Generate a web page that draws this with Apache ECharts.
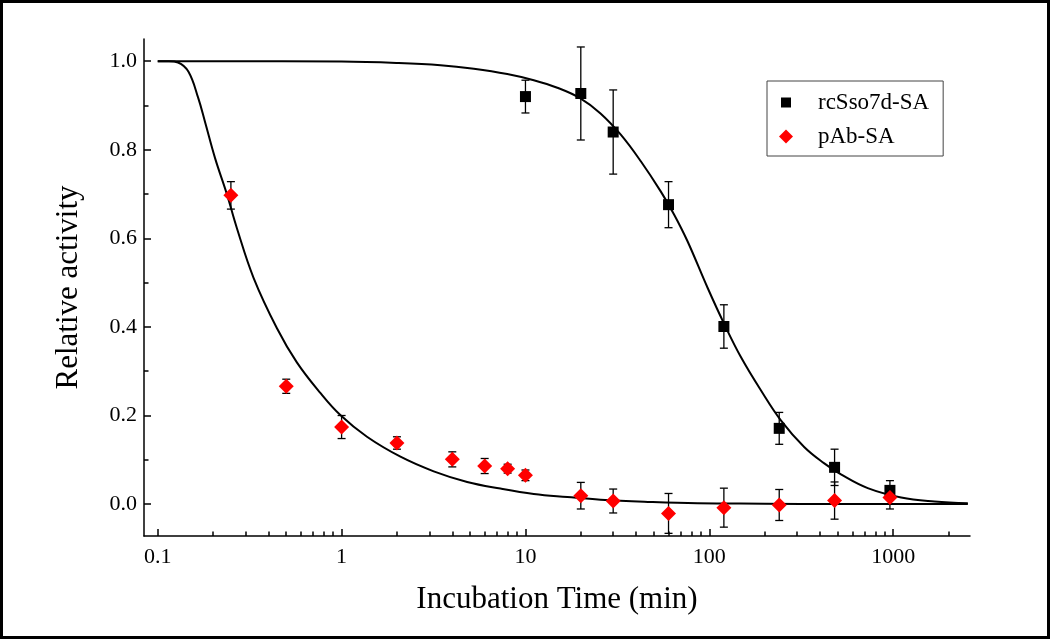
<!DOCTYPE html>
<html>
<head>
<meta charset="utf-8">
<script src="https://cdn.jsdelivr.net/npm/echarts@6/dist/echarts.min.js"></script>
<style>
html,body{margin:0;padding:0;background:#fff;}
#chart{width:1050px;height:639px;}
</style>
</head>
<body>
<div id="chart"></div>
<script>
// ---- data ----
const timeBlack = [10, 20, 30, 60, 120, 240, 480, 960];
const rcSso7d = [0.920, 0.927, 0.840, 0.676, 0.401, 0.171, 0.083, 0.031];
const rcSso7dErr = [0.037, 0.105, 0.095, 0.052, 0.049, 0.036, 0.041, 0.022];

const timeRed = [0.25, 0.5, 1, 2, 4, 6, 8, 10, 20, 30, 60, 120, 240, 480, 960];
const pAb = [0.697, 0.266, 0.174, 0.138, 0.101, 0.086, 0.080, 0.065, 0.019, 0.007, -0.021, -0.008, -0.002, 0.008, 0.015];
const pAbErr = [0.031, 0.016, 0.026, 0.014, 0.017, 0.017, 0.010, 0.012, 0.030, 0.027, 0.045, 0.044, 0.035, 0.042, 0.026];

// fitted curves
const fitBlackT = [0.1, 1, 2, 3.45, 5.24, 7.96, 11.1, 14.9, 19.9, 25.6, 33, 42.4, 54.4, 64.3, 76, 97.7, 120.4, 148.5, 190.7, 245, 328, 422, 520, 727, 1105, 1678, 2547];
const fitBlackV = [1.0, 0.999, 0.996, 0.991, 0.983, 0.971, 0.957, 0.940, 0.916, 0.882, 0.834, 0.774, 0.706, 0.654, 0.594, 0.489, 0.407, 0.332, 0.257, 0.189, 0.129, 0.092, 0.067, 0.036, 0.015, 0.006, 0.002];

const fitRedT = [0.1, 0.115, 0.129, 0.147, 0.166, 0.181, 0.205, 0.238, 0.269, 0.332, 0.445, 0.571, 0.766, 0.984, 1.374, 2.09, 3.17, 4.82, 7.31, 11.1, 16.9, 25.6, 48, 86, 200, 500, 1000, 2547];
const fitRedV = [1.0, 1.0, 0.997, 0.976, 0.917, 0.862, 0.781, 0.699, 0.624, 0.511, 0.397, 0.320, 0.251, 0.201, 0.152, 0.107, 0.074, 0.050, 0.035, 0.023, 0.016, 0.010, 0.005, 0.002, 0.001, 0.0, 0.0, 0.0];

// axis ticks
const xMinorTicks = [0.2,0.3,0.4,0.5,0.6,0.7,0.8,0.9, 2,3,4,5,6,7,8,9, 20,30,40,50,60,70,80,90, 200,300,400,500,600,700,800,900, 2000];
const yMajorTicks = [0.0, 0.2, 0.4, 0.6, 0.8, 1.0];
const yMinorTicks = [0.1, 0.3, 0.5, 0.7, 0.9];

const X_MIN = 0.0842, X_MAX = 2617;
const Y_MIN = -0.072, Y_MAX = 1.05;

const FONT = 'Liberation Serif';

function zip(a, b) { return a.map((v, i) => [v, b[i]]); }

function errSeries(name, xs, ys, es) {
  return {
    type: 'custom', name: name, xAxisIndex: 0, yAxisIndex: 0, silent: true, z: 3,
    encode: { x: 0, y: [1, 2] },
    data: xs.map((x, i) => [x, ys[i] - es[i], ys[i] + es[i]]),
    renderItem: function (params, api) {
      const x = api.value(0);
      const lo = api.coord([x, api.value(1)]);
      const hi = api.coord([x, api.value(2)]);
      const hw = 4;
      const st = { stroke: '#000', lineWidth: 1.3, fill: null };
      return {
        type: 'group', children: [
          { type: 'line', shape: { x1: lo[0], y1: lo[1], x2: hi[0], y2: hi[1] }, style: st },
          { type: 'line', shape: { x1: lo[0] - hw, y1: lo[1], x2: lo[0] + hw, y2: lo[1] }, style: st },
          { type: 'line', shape: { x1: hi[0] - hw, y1: hi[1], x2: hi[0] + hw, y2: hi[1] }, style: st }
        ]
      };
    }
  };
}

const chart = echarts.init(document.getElementById('chart'), null, { renderer: 'canvas' });

const baseY = { type: 'value', min: Y_MIN, max: Y_MAX, gridIndex: 0, position: 'left', splitLine: { show: false } };

const option = {
  backgroundColor: '#fff',
  animation: false,
  textStyle: { fontFamily: FONT },
  graphic: [
    { type: 'rect', shape: { x: 1.5, y: 1.5, width: 1047, height: 636 }, style: { fill: null, stroke: '#000', lineWidth: 3 }, z: 100 }
  ],
  grid: { left: 144, right: 80, top: 39, bottom: 103, containLabel: false },
  legend: {
    left: 767, top: 81, orient: 'vertical',
    padding: [10, 14, 8, 12],
    itemGap: 11, itemWidth: 14, itemHeight: 14,
    borderColor: '#444', borderWidth: 1, backgroundColor: '#fff',
    textStyle: { fontFamily: FONT, fontSize: 23, color: '#000', lineHeight: 20, padding: [0, 0, 0, 20] },
    data: [
      { name: 'rcSso7d-SA', icon: 'path://M0,0L0,0M14,14L14,14M2,2L12,2L12,12L2,12Z' },
      { name: 'pAb-SA', icon: 'path://M0,0L0,0M14,14L14,14M7,0L14,7L7,14L0,7Z' }
    ]
  },
  xAxis: [
    {
      type: 'log', logBase: 10, min: X_MIN, max: X_MAX, gridIndex: 0, position: 'bottom', splitLine: { show: false },
      name: 'Incubation Time (min)', nameLocation: 'middle', nameGap: 48,
      nameTextStyle: { fontFamily: FONT, fontSize: 31, color: '#000' },
      axisLine: { show: true, onZero: false, lineStyle: { color: '#000', width: 1.5 } },
      axisTick: { show: true, inside: true, length: 7, lineStyle: { color: '#000', width: 1.5 } },
      axisLabel: { show: true, margin: 10, fontFamily: FONT, fontSize: 22, color: '#000',
        showMinLabel: false, showMaxLabel: false,
        formatter: function (v) { return String(+Number(v).toPrecision(3)); } }
    },
    {
      // helper axis in log10 space that only carries the minor ticks
      type: 'value', min: Math.log10(X_MIN), max: Math.log10(X_MAX), gridIndex: 0, position: 'bottom',
      splitLine: { show: false },
      axisLine: { show: false, onZero: false },
      axisLabel: { show: false },
      axisTick: { show: true, inside: true, length: 4.5, customValues: xMinorTicks.map(Math.log10), lineStyle: { color: '#000', width: 1.5 } }
    }
  ],
  yAxis: [
    Object.assign({}, baseY, {
      name: 'Relative activity', nameLocation: 'middle', nameGap: 60, nameRotate: 90,
      nameTextStyle: { fontFamily: FONT, fontSize: 31, color: '#000' },
      axisLine: { show: true, onZero: false, lineStyle: { color: '#000', width: 1.5 } },
      axisTick: { show: true, inside: true, length: 7, customValues: yMajorTicks, lineStyle: { color: '#000', width: 1.5 } },
      axisLabel: { show: true, margin: 7, fontFamily: FONT, fontSize: 22, color: '#000',
        customValues: yMajorTicks,
        formatter: function (v) { return Number(v).toFixed(1); } }
    }),
    Object.assign({}, baseY, {
      axisLine: { show: false, onZero: false },
      axisLabel: { show: false },
      axisTick: { show: true, inside: true, length: 4.5, customValues: yMinorTicks, lineStyle: { color: '#000', width: 1.5 } }
    })
  ],
  series: [
    { type: 'line', name: 'fitRed', data: zip(fitRedT, fitRedV), showSymbol: false, symbol: 'none', smooth: 0.4,
      lineStyle: { color: '#000', width: 2 }, z: 1, silent: true },
    { type: 'line', name: 'fitBlack', data: zip(fitBlackT, fitBlackV), showSymbol: false, symbol: 'none', smooth: 0.4,
      lineStyle: { color: '#000', width: 2 }, z: 1, silent: true },
    errSeries('errBlack', timeBlack, rcSso7d, rcSso7dErr),
    errSeries('errRed', timeRed, pAb, pAbErr),
    { type: 'scatter', name: 'rcSso7d-SA', data: zip(timeBlack, rcSso7d), symbol: 'rect', symbolSize: 11,
      itemStyle: { color: '#000', opacity: 1 }, z: 5 },
    { type: 'scatter', name: 'pAb-SA', data: zip(timeRed, pAb), symbol: 'diamond', symbolSize: 15,
      itemStyle: { color: '#ff0000', opacity: 1 }, z: 6 }
  ]
};
chart.setOption(option);
</script>
</body>
</html>
